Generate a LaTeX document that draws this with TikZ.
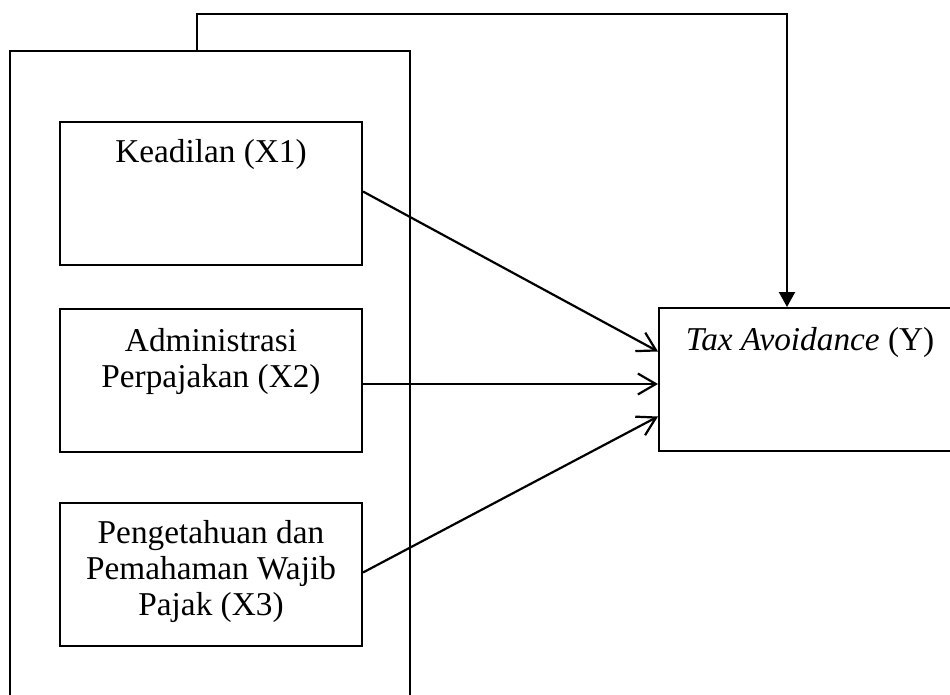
\documentclass[tikz,border=0pt]{standalone}
\usepackage{fontspec}
\setmainfont{Liberation Serif}
\usetikzlibrary{arrows.meta, calc, positioning}

\begin{document}
\begin{tikzpicture}[x=1pt, y=-1pt,
    varbox/.style={draw, line width=2pt, minimum width=302pt, minimum height=143pt, inner sep=0pt},
    boxtext/.style={font=\fontsize{33.3}{36}\selectfont, align=center, anchor=base, inner sep=0pt},
    link/.style={line width=2.2pt, -{Straight Barb[length=18pt, width=21pt]}},
    feedback/.style={line width=2pt, -{Triangle[length=15pt, width=16pt]}}]

    \useasboundingbox (0,0) rectangle (950,695);
    \clip (0,0) rectangle (950,695);

    %% --- Outer group frame (open at the bottom) ---
    \coordinate (grpTop) at (197,51);
    \draw[line width=2pt] (10,700) -- (10,51) -- (410,51) -- (410,700);

    %% --- Independent variables ---
    \node[varbox] (x1) at (211,193.5) {};
    \node[varbox] (x2) at (211,380) {};
    \node[varbox] (x3) at (211,574.5) {};

    %% --- Dependent variable ---
    \node[varbox] (ty) at (810,379.5) {};

    %% Box texts (base = baseline of the last line)
    \node[boxtext] (x1text) at ($(x1.north)+(0,42)$) {Keadilan (X1)};
    \node[boxtext] (x2text) at ($(x2.north)+(0,80)$) {Administrasi\\Perpajakan (X2)};
    \node[boxtext] (x3text) at ($(x3.north)+(0,113)$) {Pengetahuan dan\\Pemahaman Wajib\\Pajak (X3)};
    \node[boxtext] (tytext) at ($(ty.north)+(0,43)$) {\textit{Tax Avoidance} (Y)};

    %% --- Partial effects ---
    \draw[link] ($(x1.east)+(0,-2)$) -- ($(ty.west)+(0,-28)$);
    \draw[link] ($(x2.east)+(0,4)$) -- ($(ty.west)+(0,4.5)$);
    \draw[link] ($(x3.east)+(0,-2)$) -- ($(ty.west)+(0,37)$);

    %% --- Simultaneous effect ---
    \draw[feedback] (grpTop) -- ++(0,-37) -| ($(ty.north)+(-23,0)$);

\end{tikzpicture}
\end{document}
